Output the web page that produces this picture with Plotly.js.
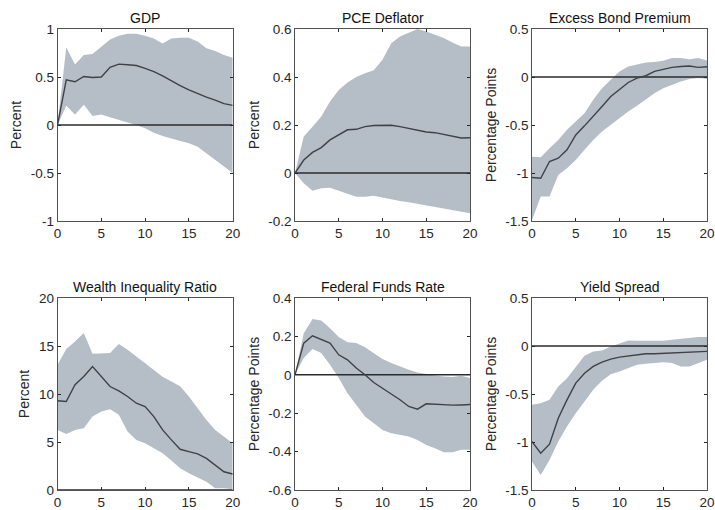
<!DOCTYPE html>
<html>
<head>
<meta charset="utf-8">
<script src="https://cdn.plot.ly/plotly-3.0.1.min.js"></script>
<style>body{margin:0;padding:0;background:#fff;}#chart{width:715px;height:510px;}</style>
</head>
<body>
<div id="chart"></div>
<script>
const horizon = [0,1,2,3,4,5,6,7,8,9,10,11,12,13,14,15,16,17,18,19,20];

const titles = ["GDP","PCE Deflator","Excess Bond Premium","Wealth Inequality Ratio","Federal Funds Rate","Yield Spread"];
const yLabels = ["Percent","Percent","Percentage Points","Percent","Percentage Points","Percentage Points"];

const gdpMedian = [0,0.47,0.45,0.505,0.495,0.50,0.60,0.634,0.627,0.62,0.59,0.557,0.512,0.46,0.41,0.366,0.324,0.29,0.26,0.223,0.205];
const gdpUpper  = [0,0.81,0.63,0.73,0.74,0.82,0.89,0.93,0.95,0.95,0.93,0.90,0.85,0.90,0.91,0.91,0.87,0.80,0.77,0.73,0.70];
const gdpLower  = [0,0.20,0.11,0.21,0.095,0.11,0.08,0.05,0.025,0,-0.035,-0.08,-0.115,-0.14,-0.167,-0.19,-0.226,-0.296,-0.366,-0.436,-0.50];

const pceMedian = [0,0.054,0.086,0.106,0.138,0.159,0.18,0.182,0.193,0.198,0.20,0.199,0.193,0.186,0.18,0.171,0.168,0.161,0.154,0.146,0.147];
const pceUpper  = [0,0.152,0.193,0.235,0.298,0.346,0.377,0.40,0.416,0.428,0.472,0.541,0.569,0.586,0.60,0.59,0.576,0.562,0.544,0.527,0.527];
const pceLower  = [0,-0.043,-0.074,-0.064,-0.061,-0.074,-0.085,-0.099,-0.099,-0.095,-0.102,-0.11,-0.117,-0.122,-0.129,-0.136,-0.143,-0.15,-0.157,-0.164,-0.168];

const ebpMedian = [-1.047,-1.055,-0.88,-0.846,-0.759,-0.603,-0.509,-0.411,-0.307,-0.203,-0.133,-0.057,-0.011,0.013,0.058,0.076,0.10,0.11,0.114,0.10,0.107];
const ebpUpper  = [-0.83,-0.836,-0.742,-0.655,-0.55,-0.463,-0.377,-0.237,-0.116,-0.029,0.058,0.11,0.134,0.152,0.155,0.169,0.197,0.197,0.186,0.197,0.172];
const ebpLower  = [-1.49,-1.245,-1.245,-1.02,-0.95,-0.864,-0.759,-0.655,-0.568,-0.498,-0.429,-0.359,-0.30,-0.237,-0.168,-0.116,-0.081,-0.046,-0.022,-0.011,-0.018];

const wirMedian = [9.29,9.22,10.96,11.83,12.87,11.83,10.78,10.33,9.74,9.04,8.70,7.65,6.26,5.22,4.24,4.0,3.76,3.3,2.6,1.9,1.67];
const wirUpper  = [13.04,14.68,15.48,16.35,14.19,14.19,14.26,15.2,14.6,13.9,13.2,12.5,11.8,11.3,10.8,9.74,8.5,7.3,6.26,5.57,4.87];
const wirLower  = [6.26,5.84,6.26,6.43,7.65,8.17,8.42,7.83,6.09,5.22,4.87,4.35,3.83,3.06,2.26,1.74,1.32,0.87,0.17,0.17,0.07];

const ffrMedian = [0,0.165,0.203,0.186,0.165,0.104,0.078,0.035,0,-0.04,-0.07,-0.099,-0.13,-0.165,-0.179,-0.151,-0.153,-0.157,-0.158,-0.157,-0.155];
const ffrUpper  = [0,0.217,0.29,0.283,0.243,0.197,0.17,0.165,0.144,0.113,0.082,0.061,0.043,0.026,0.012,0.003,-0.003,-0.009,-0.012,-0.005,-0.017];
const ffrLower  = [0,0.087,0.134,0.113,0.052,-0.017,-0.096,-0.157,-0.217,-0.252,-0.287,-0.304,-0.313,-0.322,-0.339,-0.365,-0.383,-0.403,-0.403,-0.391,-0.391];

const ysMedian = [-0.996,-1.117,-1.023,-0.752,-0.561,-0.387,-0.283,-0.213,-0.168,-0.137,-0.116,-0.102,-0.091,-0.081,-0.081,-0.077,-0.074,-0.07,-0.067,-0.06,-0.056];
const ysUpper  = [-0.613,-0.596,-0.561,-0.422,-0.335,-0.213,-0.102,-0.057,-0.046,-0.004,0.03,0.058,0.055,0.055,0.055,0.055,0.065,0.076,0.083,0.093,0.093];
const ysLower  = [-1.204,-1.343,-1.187,-0.996,-0.839,-0.70,-0.578,-0.457,-0.363,-0.294,-0.265,-0.231,-0.196,-0.186,-0.178,-0.168,-0.178,-0.213,-0.213,-0.178,-0.143];

const xTicks = [0,5,10,15,20];
const yRanges = [[-1,1],[-0.2,0.6],[-1.5,0.5],[0,20],[-0.6,0.4],[-1.5,0.5]];
const yTicks = [[-1,-0.5,0,0.5,1],[-0.2,0,0.2,0.4,0.6],[-1.5,-1,-0.5,0,0.5],[0,5,10,15,20],[-0.6,-0.4,-0.2,0,0.2,0.4],[-1.5,-1,-0.5,0,0.5]];
const yTickText = [["-1","-0.5","0","0.5","1"],["-0.2","0","0.2","0.4","0.6"],["-1.5","-1","-0.5","0","0.5"],["0","5","10","15","20"],["-0.6","-0.4","-0.2","0","0.2","0.4"],["-1.5","-1","-0.5","0","0.5"]];

const medians = [gdpMedian,pceMedian,ebpMedian,wirMedian,ffrMedian,ysMedian];
const uppers = [gdpUpper,pceUpper,ebpUpper,wirUpper,ffrUpper,ysUpper];
const lowers = [gdpLower,pceLower,ebpLower,wirLower,ffrLower,ysLower];

const W = 715, H = 510;
const xPix = [[57.5,232.7],[295,470],[532,707]];
const yPix = [[29,221],[298,490]];

const bandColor = '#b5bec6';
const lineColor = '#3d4247';
const axisColor = '#262626';

const traces = [];
const layout = {
  width: W, height: H,
  margin: {l:0,r:0,t:0,b:0},
  paper_bgcolor: '#fff', plot_bgcolor: '#fff',
  showlegend: false,
  font: {family: 'Liberation Sans, Arial, sans-serif', color: axisColor, size: 13},
  annotations: []
};

for (let i = 0; i < 6; i++) {
  const n = i + 1;
  const xa = n === 1 ? 'x' : 'x' + n;
  const ya = n === 1 ? 'y' : 'y' + n;
  const col = i % 3, row = Math.floor(i / 3);
  traces.push({x: horizon, y: lowers[i], xaxis: xa, yaxis: ya, type: 'scatter', mode: 'lines', line: {width: 0, color: bandColor}, hoverinfo: 'skip'});
  traces.push({x: horizon, y: uppers[i], xaxis: xa, yaxis: ya, type: 'scatter', mode: 'lines', fill: 'tonexty', fillcolor: bandColor, line: {width: 0, color: bandColor}, hoverinfo: 'skip'});
  traces.push({x: [0, 20], y: [0, 0], xaxis: xa, yaxis: ya, type: 'scatter', mode: 'lines', line: {width: 1.6, color: '#2b2b2b'}});
  traces.push({x: horizon, y: medians[i], xaxis: xa, yaxis: ya, type: 'scatter', mode: 'lines', line: {width: 1.4, color: lineColor}});

  const xd = [xPix[col][0] / W, xPix[col][1] / W];
  const yd = [1 - yPix[row][1] / H, 1 - yPix[row][0] / H];
  const axCommon = {showline: true, linecolor: axisColor, linewidth: 0.8, mirror: 'ticks', ticks: 'inside', ticklen: 3, tickcolor: axisColor, showgrid: false, zeroline: false, tickfont: {size: 13.5, color: axisColor}};
  layout['xaxis' + (n === 1 ? '' : n)] = Object.assign({}, axCommon, {domain: xd, range: [0, 20], tickvals: xTicks, ticktext: xTicks.map(String), anchor: ya});
  layout['yaxis' + (n === 1 ? '' : n)] = Object.assign({}, axCommon, {domain: yd, range: yRanges[i], tickvals: yTicks[i], ticktext: yTickText[i], anchor: xa, title: {text: yLabels[i], font: {size: 14, color: axisColor}, standoff: 5}});
  layout.annotations.push({text: titles[i], xref: 'paper', yref: 'paper', x: (xd[0] + xd[1]) / 2, y: yd[1], yanchor: 'bottom', xanchor: 'center', yshift: 1, showarrow: false, font: {size: 14, color: '#111'}});
}

Plotly.newPlot('chart', traces, layout, {staticPlot: true, displayModeBar: false});
</script>
</body>
</html>
